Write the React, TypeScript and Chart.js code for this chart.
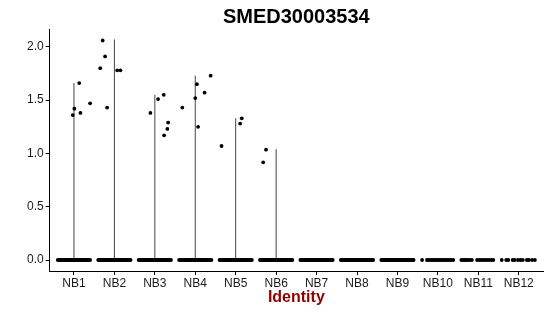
import React, { useEffect, useRef } from "react";
import { Chart, registerables } from "chart.js";

Chart.register(...registerables);

const chartTitle = "SMED30003534";
const xAxisTitle = "Identity";
const categories = ["NB1", "NB2", "NB3", "NB4", "NB5", "NB6", "NB7", "NB8", "NB9", "NB10", "NB11", "NB12"];
const yTicks = [0, 0.5, 1.0, 1.5, 2.0];

// violin (collapsed) extent per category
const violinMax = [1.66, 2.07, 1.55, 1.73, 1.33, 1.04, 0, 0, 0, 0, 0, 0];

// non-zero expression points: category index, value, horizontal jitter (category units)
const exprCat = [0, 0, 0, 0, 0, 1, 1, 1, 1, 1, 1, 2, 2, 2, 2, 2, 2, 3, 3, 3, 3, 3, 3, 4, 4, 4, 5, 5];
const exprValue = [1.66, 1.47, 1.42, 1.38, 1.36, 2.06, 1.91, 1.8, 1.78, 1.78, 1.43, 1.38, 1.51, 1.55, 1.29, 1.23, 1.17, 1.43, 1.65, 1.52, 1.57, 1.25, 1.73, 1.07, 1.33, 1.28, 1.035, 0.917];
const exprJitter = [0.13, 0.4, 0.01, 0.16, -0.03, -0.29, -0.23, -0.35, 0.07, 0.15, -0.18, -0.11, 0.08, 0.22, 0.33, 0.31, 0.23, -0.32, 0.04, 0.0, 0.23, 0.07, 0.38, -0.35, 0.15, 0.11, -0.25, -0.32];

// categories whose zero-valued cells form a continuous band
const denseZeroCats = [0, 1, 2, 3, 4, 5, 6, 7, 8];
const zeroJitterHalfWidth = 0.4;
// sparse zero-valued cells (jitter offsets) for NB10, NB11, NB12
const sparseZeroCats = [9, 10, 11];
const sparseZeroJitter = [
  [-0.39, -0.27, -0.23, -0.19, -0.15, -0.11, -0.07, -0.03, 0.01, 0.05, 0.09, 0.13, 0.17, 0.21, 0.25, 0.29, 0.33, 0.38],
  [-0.42, -0.38, -0.34, -0.3, -0.26, -0.21, -0.16, -0.03, 0.02, 0.07, 0.12, 0.17, 0.22, 0.27, 0.32, 0.37],
  [-0.42, -0.31, -0.26, -0.15, -0.1, -0.02, 0.04, 0.1, 0.2, 0.25, 0.33, 0.4],
];

const FONT = "'Liberation Sans', Arial, Helvetica, sans-serif";

export default function App() {
  const ref = useRef<HTMLCanvasElement | null>(null);

  useEffect(() => {
    if (!ref.current) return;
    const datasets: any[] = [];

    // non-zero points
    datasets.push({
      data: exprValue.map((v, i) => ({ x: exprCat[i] + 1 + exprJitter[i], y: v })),
      pointRadius: 1.9,
      pointBackgroundColor: "#000",
      pointBorderWidth: 0,
      showLine: false,
      order: 0,
    });

    // sparse zero points
    const sparsePts: any[] = [];
    sparseZeroCats.forEach((c, k) => {
      sparseZeroJitter[k].forEach((j) => sparsePts.push({ x: c + 1 + j, y: 0 }));
    });
    datasets.push({
      data: sparsePts,
      pointRadius: 1.9,
      pointBackgroundColor: "#000",
      pointBorderWidth: 0,
      showLine: false,
      order: 0,
    });

    // dense zero bands
    denseZeroCats.forEach((c) => {
      datasets.push({
        data: [
          { x: c + 1 - zeroJitterHalfWidth, y: 0 },
          { x: c + 1 + zeroJitterHalfWidth, y: 0 },
        ],
        showLine: true,
        borderColor: "#000",
        borderWidth: 3.8,
        borderCapStyle: "round",
        pointRadius: 0,
        order: 1,
      });
    });

    // violin lines
    violinMax.forEach((m, c) => {
      if (m <= 0) return;
      datasets.push({
        data: [
          { x: c + 1, y: 0 },
          { x: c + 1, y: m },
        ],
        showLine: true,
        borderColor: "#444",
        borderWidth: 1,
        pointRadius: 0,
        order: 2,
      });
    });

    const chart = new Chart(ref.current, {
      type: "scatter",
      data: { datasets },
      options: {
        animation: false,
        responsive: false,
        events: [],
        layout: { padding: { left: 0, right: 7, top: 0, bottom: 0 } },
        plugins: {
          legend: { display: false },
          tooltip: { enabled: false },
          title: {
            display: true,
            text: chartTitle,
            fullSize: false,
            color: "#000",
            font: { family: FONT, size: 20, weight: "bold", lineHeight: 1.2 },
            padding: { top: 5.5, bottom: 0 },
          },
        },
        scales: {
          x: {
            type: "linear",
            min: 0.4,
            max: 12.6,
            afterBuildTicks: (s: any) => {
              s.ticks = categories.map((_, i) => ({ value: i + 1 }));
            },
            afterFit: (s: any) => {
              s.height = 45;
            },
            ticks: {
              autoSkip: false,
              maxRotation: 0,
              padding: 1,
              color: "#1a1a1a",
              font: { family: FONT, size: 12 },
              callback: (v: any) => categories[Math.round(v) - 1] ?? "",
            },
            grid: { display: true, drawOnChartArea: false, drawTicks: true, tickLength: 4, color: "#000" },
            border: { display: true, color: "#000", width: 1 },
            title: {
              display: true,
              text: xAxisTitle,
              color: "#8B0000",
              font: { family: FONT, size: 16, weight: "bold", lineHeight: 1.2 },
              padding: { top: 0, bottom: 8.4 },
            },
          },
          y: {
            type: "linear",
            min: -0.103,
            max: 2.163,
            afterBuildTicks: (s: any) => {
              s.ticks = yTicks.map((v) => ({ value: v }));
            },
            afterFit: (s: any) => {
              s.width = 49.7;
            },
            ticks: {
              padding: 2,
              color: "#1a1a1a",
              font: { family: FONT, size: 12 },
              callback: (v: any) => Number(v).toFixed(1),
            },
            grid: { display: true, drawOnChartArea: false, drawTicks: true, tickLength: 4, color: "#000" },
            border: { display: true, color: "#000", width: 1 },
          },
        },
      },
    });
    return () => chart.destroy();
  }, []);

  return (
    <div style={{ position: "fixed", left: 0, top: 0, width: 550, height: 316, background: "#fff" }}>
      <canvas ref={ref} width={550} height={316} style={{ display: "block" }} />
    </div>
  );
}
